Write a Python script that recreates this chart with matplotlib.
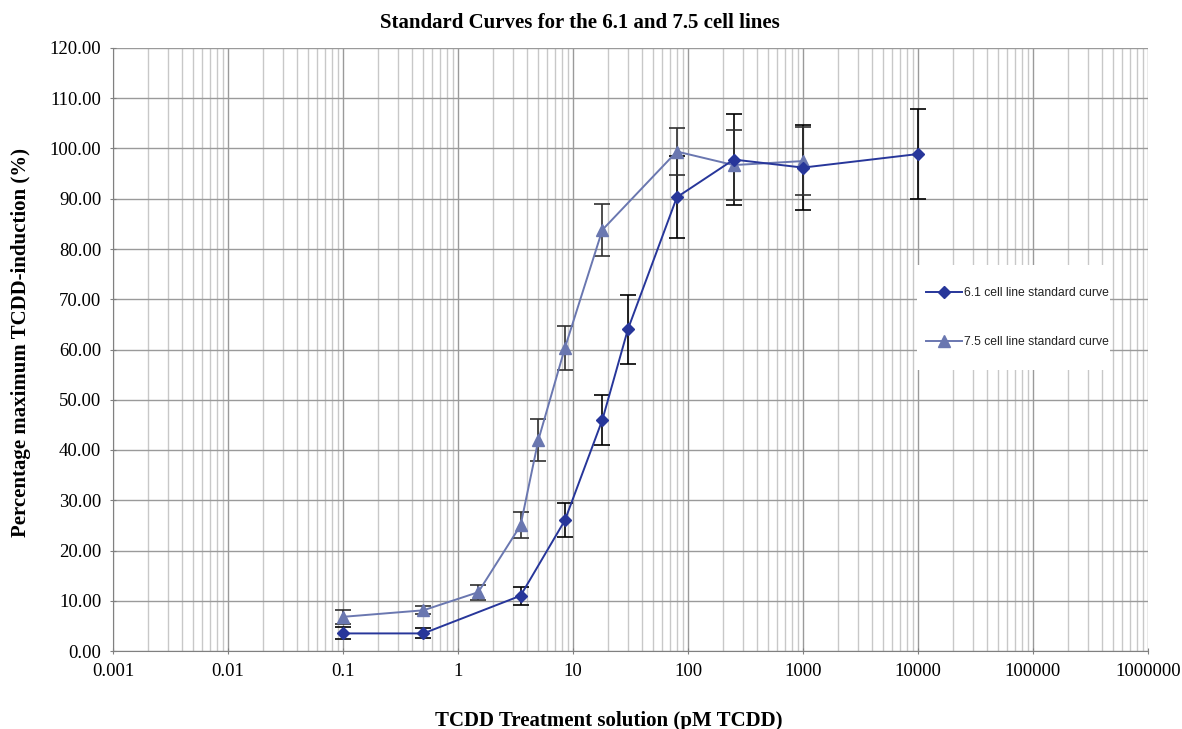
import matplotlib.pyplot as plt
from matplotlib.patches import Rectangle
from matplotlib.ticker import LogLocator, FuncFormatter, NullFormatter

# 6.1 cell line
x61 = [0.1, 0.5, 3.5, 8.5, 18, 30, 80, 250, 1000, 10000]
y61 = [3.5, 3.5, 11.0, 26.0, 46.0, 64.0, 90.3, 97.8, 96.2, 98.9]
e61 = [1.2, 1.0, 1.8, 3.4, 5.0, 6.8, 8.2, 9.0, 8.5, 9.0]

# 7.5 cell line
x75 = [0.1, 0.5, 1.5, 3.5, 5, 8.5, 18, 80, 250, 1000]
y75 = [6.8, 8.1, 11.7, 25.0, 42.0, 60.3, 83.8, 99.4, 96.7, 97.5]
e75 = [1.4, 0.8, 1.5, 2.6, 4.2, 4.3, 5.2, 4.6, 7.0, 6.8]

xticks = [0.001, 0.01, 0.1, 1, 10, 100, 1000, 10000, 100000, 1000000]
xticklabels = ["0.001", "0.01", "0.1", "1", "10", "100", "1000", "10000", "100000", "1000000"]

c61 = "#27369a"
c75 = "#6a77b0"

plt.rcParams['font.family'] = ['Liberation Serif', 'DejaVu Serif']

fig = plt.figure(figsize=(11.82, 7.29), dpi=100)
ax = fig.add_axes([113 / 1182, 1 - 651 / 729, (1148 - 113) / 1182, (651 - 48) / 729])

ax.set_xscale("log")
ax.set_xlim(0.001, 1000000)
ax.set_ylim(0, 120)

ax.set_xticks(xticks)
ax.set_xticklabels(xticklabels)
ax.xaxis.set_minor_locator(LogLocator(base=10, subs=range(2, 10), numticks=100))
ax.xaxis.set_minor_formatter(NullFormatter())
ax.set_yticks(range(0, 121, 10))
ax.yaxis.set_major_formatter(FuncFormatter(lambda v, p: "%.2f" % v))

ax.grid(True, which="major", axis="x", color="#9a9a9a", lw=1.0)
ax.grid(True, which="minor", axis="x", color="#c8c8c8", lw=1.0)
ax.grid(True, which="major", axis="y", color="#9a9a9a", lw=1.0)
ax.set_axisbelow(True)

for s in ["top", "right"]:
    ax.spines[s].set_visible(False)
for s in ["left", "bottom"]:
    ax.spines[s].set_color("#808080")
ax.tick_params(which="major", length=5, color="#808080", labelsize=13.5, direction="inout")
ax.tick_params(which="minor", length=0)
ax.tick_params(axis="x", pad=6)
ax.tick_params(axis="y", pad=6)

ax.errorbar(x61, y61, yerr=e61, fmt="none", ecolor="black", elinewidth=1.2, capsize=6, capthick=1.2, zorder=3)
ax.errorbar(x75, y75, yerr=e75, fmt="none", ecolor="#303030", elinewidth=1.2, capsize=6, capthick=1.2, zorder=3)
ax.plot(x75, y75, color=c75, marker="^", ms=8, lw=1.4, label="7.5 cell line standard curve", zorder=4)
ax.plot(x61, y61, color=c61, marker="D", ms=6, lw=1.4, label="6.1 cell line standard curve", zorder=5)

# white legend panel
ax.add_patch(Rectangle(((917 - 113) / 1035, (651 - 370) / 603), (1110 - 917) / 1035, (370 - 265) / 603,
                       transform=ax.transAxes, facecolor="white", edgecolor="none", zorder=2))

handles, labels = ax.get_legend_handles_labels()
leg = ax.legend(handles[::-1], labels[::-1], loc="center left",
                bbox_to_anchor=((926 - 113) / 1035, (651 - 317.5) / 603),
                frameon=False, prop={"family": "Liberation Sans", "size": 8.7},
                labelspacing=3.1, handlelength=3.0, handletextpad=0.15, borderpad=0, borderaxespad=0)
for t in leg.get_texts():
    t.set_color("#222222")

fig.text(580 / 1182, 1 - 23 / 729, "Standard Curves for the 6.1 and 7.5 cell lines", ha="center", va="center",
         fontsize=15, fontweight="bold")
ax.set_xlabel("TCDD Treatment solution (pM TCDD)", fontsize=15, fontweight="bold")
ax.xaxis.set_label_coords((609 - 113) / 1035, (651 - 711) / 603)
ax.set_ylabel("Percentage maximum TCDD-induction (%)", fontsize=15, fontweight="bold")
ax.yaxis.set_label_coords((31 - 113) / 1035, (651 - 342.5) / 603)

fig.savefig("out.png", dpi=100)
